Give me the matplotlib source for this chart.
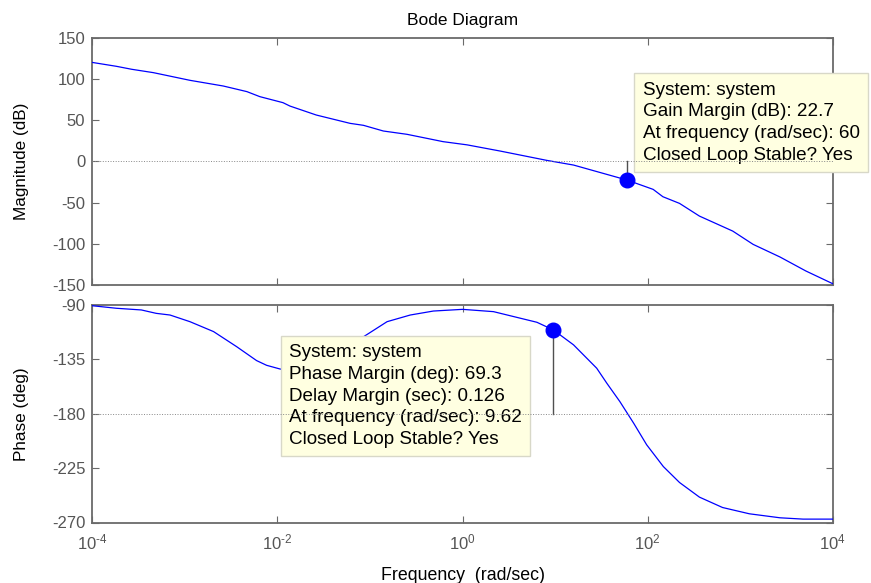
import matplotlib
matplotlib.use("Agg")
import matplotlib.pyplot as plt
from matplotlib.ticker import FuncFormatter
import numpy as np

plt.rcParams['font.family'] = ['Liberation Sans', 'DejaVu Sans']
plt.rcParams['mathtext.fontset'] = 'custom'
plt.rcParams['mathtext.rm'] = 'Liberation Sans'
plt.rcParams['mathtext.it'] = 'Liberation Sans:italic'
plt.rcParams['axes.unicode_minus'] = False

# --- data (log10 of rad/sec) ---
mag_logw = [-4.0, -3.74, -3.575, -3.34, -2.945, -2.585, -2.33, -2.19, -1.94, -1.865,
            -1.58, -1.215, -1.07, -0.855, -0.6, -0.42, -0.21, 0.05, 0.407, 0.91,
            1.2, 1.778, 2.06, 2.165, 2.345, 2.56, 2.92, 3.14, 3.43, 3.71, 4.0]
mag_db = [120, 115.3, 111.7, 107.6, 98.3, 91.4, 84.6, 78.5, 71.2, 67.1,
          56.2, 46.1, 43.7, 36.8, 32.8, 28.7, 23.9, 20.0, 12.5, 1.2,
          -4.5, -22.7, -34, -42.9, -51, -66.4, -84.6, -100.7, -116, -133, -148.4]

ph_logw = [-4.0, -3.74, -3.47, -3.31, -3.16, -2.945, -2.69, -2.44, -2.225, -2.117,
           -1.97, -1.75, -1.5, -1.25, -1.07, -0.815, -0.565, -0.315, 0.0, 0.335,
           0.804, 0.983, 1.2, 1.45, 1.56, 1.70, 1.85, 1.99, 2.17, 2.345,
           2.56, 2.81, 3.1, 3.43, 3.68, 4.0]
ph_deg = [-90.6, -92.7, -94.1, -96.9, -98.3, -103.8, -112, -124.5, -136, -139.9,
          -143, -145, -141, -128, -116.3, -103.8, -98.3, -95, -93.6, -95.5,
          -104.3, -110.7, -123, -142.3, -154.8, -169.9, -187.9, -205.7, -223.7, -236.9,
          -249, -257.6, -262.8, -266.1, -267.2, -267.2]

gm_db = 22.7
gm_freq = 60
pm_deg = 69.3
dm_sec = 0.126
pm_freq = 9.62

mag_ticks = [-150, -100, -50, 0, 50, 100, 150]
ph_ticks = [-270, -225, -180, -135, -90]
w_ticks = [1e-4, 1e-2, 1e0, 1e2, 1e4]

gm_text = ("System: system\nGain Margin (dB): %.1f\nAt frequency (rad/sec): %d\n"
           "Closed Loop Stable? Yes" % (gm_db, gm_freq))
pm_text = ("System: system\nPhase Margin (deg): %.1f\nDelay Margin (sec): %.3f\n"
           "At frequency (rad/sec): %.2f\nClosed Loop Stable? Yes" % (pm_deg, dm_sec, pm_freq))


def decade(x, pos):
    e = int(round(np.log10(x)))
    s = str(e).replace('-', r'\text{-}')
    return r'$\mathdefault{10^{%s}}$' % s


W, H = 871, 583
fig = plt.figure(figsize=(W / 100, H / 100), dpi=100)
ax1 = fig.add_axes([92.3 / W, 1 - 285 / H, 740.4 / W, 247.3 / H])
ax2 = fig.add_axes([92.3 / W, 1 - 522.5 / H, 740.4 / W, 217.5 / H])

gray = '#6a6a6a'
for ax in (ax1, ax2):
    ax.set_xscale('log')
    ax.set_xlim(1e-4, 1e4)
    ax.set_xticks(w_ticks)
    ax.minorticks_off()
    ax.xaxis.set_major_formatter(FuncFormatter(decade))
    ax.tick_params(direction='in', top=True, right=True, length=5, width=0.8,
                   color=gray, labelcolor='#555555', labelsize=12, pad=5)
    ax.tick_params(axis='x', pad=7)
    for s in ax.spines.values():
        s.set_color(gray)
        s.set_linewidth(1.3)

# magnitude
ax1.plot(10 ** np.array(mag_logw), mag_db, color='#0000ff', lw=0.9, zorder=3)
ax1.axhline(0, color='#888888', lw=0.7, ls=':', zorder=7)
ax1.set_ylim(-150, 150)
ax1.set_yticks(mag_ticks)
ax1.tick_params(labelbottom=False)
ax1.set_ylabel('Magnitude (dB)', fontsize=12.3)
ax1.yaxis.set_label_coords(-0.086, 0.5)
ax1.set_title('Bode Diagram', fontsize=12.5, pad=9)
ax1.plot([gm_freq, gm_freq], [0, -gm_db], color='#505050', lw=1, zorder=4)
ax1.plot([gm_freq], [-gm_db], 'o', color='#0000ff', ms=10.5, zorder=6)
ax1.text(0.7437, 0.822, gm_text, transform=ax1.transAxes, ha='left', va='top',
         fontsize=13.6, linespacing=1.36, clip_on=False, zorder=5,
         bbox=dict(boxstyle='square,pad=0.45', fc='#ffffe1', ec='#d8d8c8', lw=1))

# phase
ax2.plot(10 ** np.array(ph_logw), ph_deg, color='#0000ff', lw=0.9, zorder=3)
ax2.axhline(-180, color='#888888', lw=0.7, ls=':', zorder=7)
ax2.set_ylim(-270, -90)
ax2.set_yticks(ph_ticks)
ax2.set_ylabel('Phase (deg)', fontsize=12.3)
ax2.yaxis.set_label_coords(-0.086, 0.5)
ax2.set_xlabel('Frequency  (rad/sec)', fontsize=12.8, labelpad=11)
ax2.plot([pm_freq, pm_freq], [-180, -180 + pm_deg], color='#505050', lw=1, zorder=4)
ax2.plot([pm_freq], [-180 + pm_deg], 'o', color='#0000ff', ms=10.5, zorder=6)
ax2.text(0.2657, 0.82, pm_text, transform=ax2.transAxes, ha='left', va='top',
         fontsize=13.6, linespacing=1.36, clip_on=False, zorder=5,
         bbox=dict(boxstyle='square,pad=0.45', fc='#ffffe1', ec='#d8d8c8', lw=1))

fig.savefig('out.png', dpi=100)
